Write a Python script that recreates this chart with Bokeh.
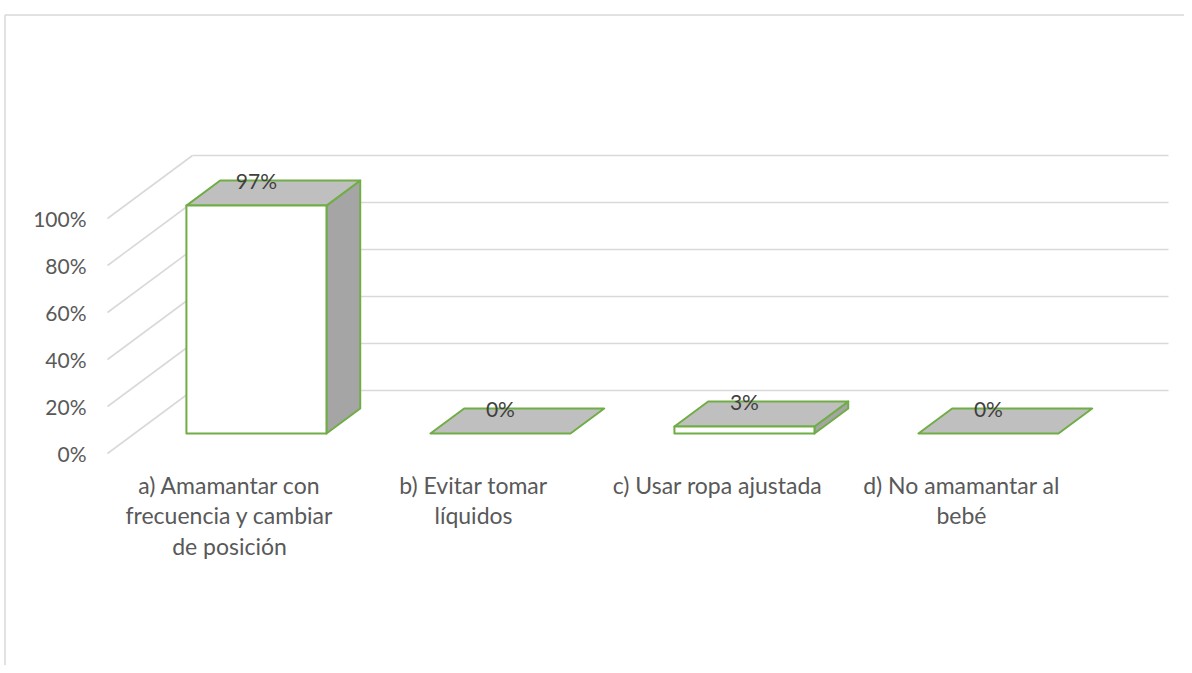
from bokeh.plotting import figure
from bokeh.models import Range1d
from bokeh.core.properties import value
from bokeh.embed import file_html
from bokeh.resources import INLINE

# ---- data ----
categories = ["a) Amamantar con\nfrecuencia y cambiar\nde posición",
              "b) Evitar tomar\nlíquidos",
              "c) Usar ropa ajustada",
              "d) No amamantar al\nbebé"]
values = [97, 0, 3, 0]
value_labels = ["97%", "0%", "3%", "0%"]
y_ticks = [0, 20, 40, 60, 80, 100]
y_tick_labels = ["0%", "20%", "40%", "60%", "80%", "100%"]

# ---- geometry (data units: x = category units, y = percent) ----
PX_X = 244.0      # px per category
PX_Y = 2.35       # px per percent
X0_SCREEN = 107.0 # screen x of front-left floor corner
Y0_SCREEN = 453.0 # screen y of front floor (0%)
DX = 85.0 / PX_X  # depth vector in data units
DY = 63.0 / PX_Y
F0, F1 = 0.317, 0.714   # bar slab depth fractions
BW = 0.574              # bar width (category units)
N = len(categories)

W, H = 1184, 665
p = figure(width=W, height=H, output_backend="svg", toolbar_location=None,
           x_axis_location=None, y_axis_location=None, min_border=0,
           outline_line_color=None,
           x_range=Range1d((0 - X0_SCREEN) / PX_X, (W - X0_SCREEN) / PX_X),
           y_range=Range1d((Y0_SCREEN - H) / PX_Y, Y0_SCREEN / PX_Y))
p.grid.visible = False
p.background_fill_color = "white"
p.border_fill_color = "white"

# chart area border (top and left)
top_y = (Y0_SCREEN - 14.5) / PX_Y
left_x = (4.5 - X0_SCREEN) / PX_X
p.line([left_x, p.x_range.end], [top_y, top_y], line_color="#d9d9d9", line_width=1.5)
p.line([left_x, left_x], [top_y, p.y_range.start], line_color="#d9d9d9", line_width=1.5)

def P(x, y, d):
    return x + d * DX, y + d * DY

GRID = "#d9d9d9"
# back wall gridlines
bx, by = [], []
for t in y_ticks:
    a = P(0, t, 1.0)
    b = P(N, t, 1.0)
    bx.append([a[0], b[0]]); by.append([a[1], b[1]])
p.multi_line(bx, by, line_color=GRID, line_width=1.6)
# left wall diagonals
lx, ly = [], []
for t in y_ticks:
    a = P(0, t, 0.0)
    b = P(0, t, 1.0)
    lx.append([a[0], b[0]]); ly.append([a[1], b[1]])
p.multi_line(lx, ly, line_color=GRID, line_width=1.6)

GREEN = "#70ad47"
for i, v in enumerate(values):
    x0 = i + 0.5 - BW / 2
    x1 = i + 0.5 + BW / 2
    side = [P(x1, 0, F0), P(x1, 0, F1), P(x1, v, F1), P(x1, v, F0)]
    top = [P(x0, v, F0), P(x1, v, F0), P(x1, v, F1), P(x0, v, F1)]
    front = [P(x0, 0, F0), P(x1, 0, F0), P(x1, v, F0), P(x0, v, F0)]
    for poly, col in ((side, "#a5a5a5"), (top, "#bfbfbf"), (front, "#ffffff")):
        if v == 0 and col != "#bfbfbf":
            continue
        p.patch([q[0] for q in poly], [q[1] for q in poly], fill_color=col,
                line_color=GREEN, line_width=2, line_join="round")

# data labels
lab_x = [i + 0.5 + F0 * DX for i in range(N)]
lab_y = [v + F1 * DY for v in values]
p.text(x=lab_x, y=lab_y, text=value_labels, text_font=value("Lato"),
       text_font_size="21px", text_color="#404040", text_align="center",
       text_baseline="middle")

# y tick labels
p.text(x=[(86 - X0_SCREEN) / PX_X] * len(y_ticks), y=y_ticks, text=y_tick_labels,
       text_font=value("Lato"), text_font_size="21px", text_color="#595959",
       text_align="right", text_baseline="middle")

# category labels
p.text(x=[i + 0.5 for i in range(N)], y=[(Y0_SCREEN - 470) / PX_Y] * N, text=categories,
       text_font=value("Lato"), text_font_size="23px", text_color="#595959",
       text_align="center", text_baseline="top", text_line_height=1.09)

open("out.html", "w").write(file_html(p, INLINE))
